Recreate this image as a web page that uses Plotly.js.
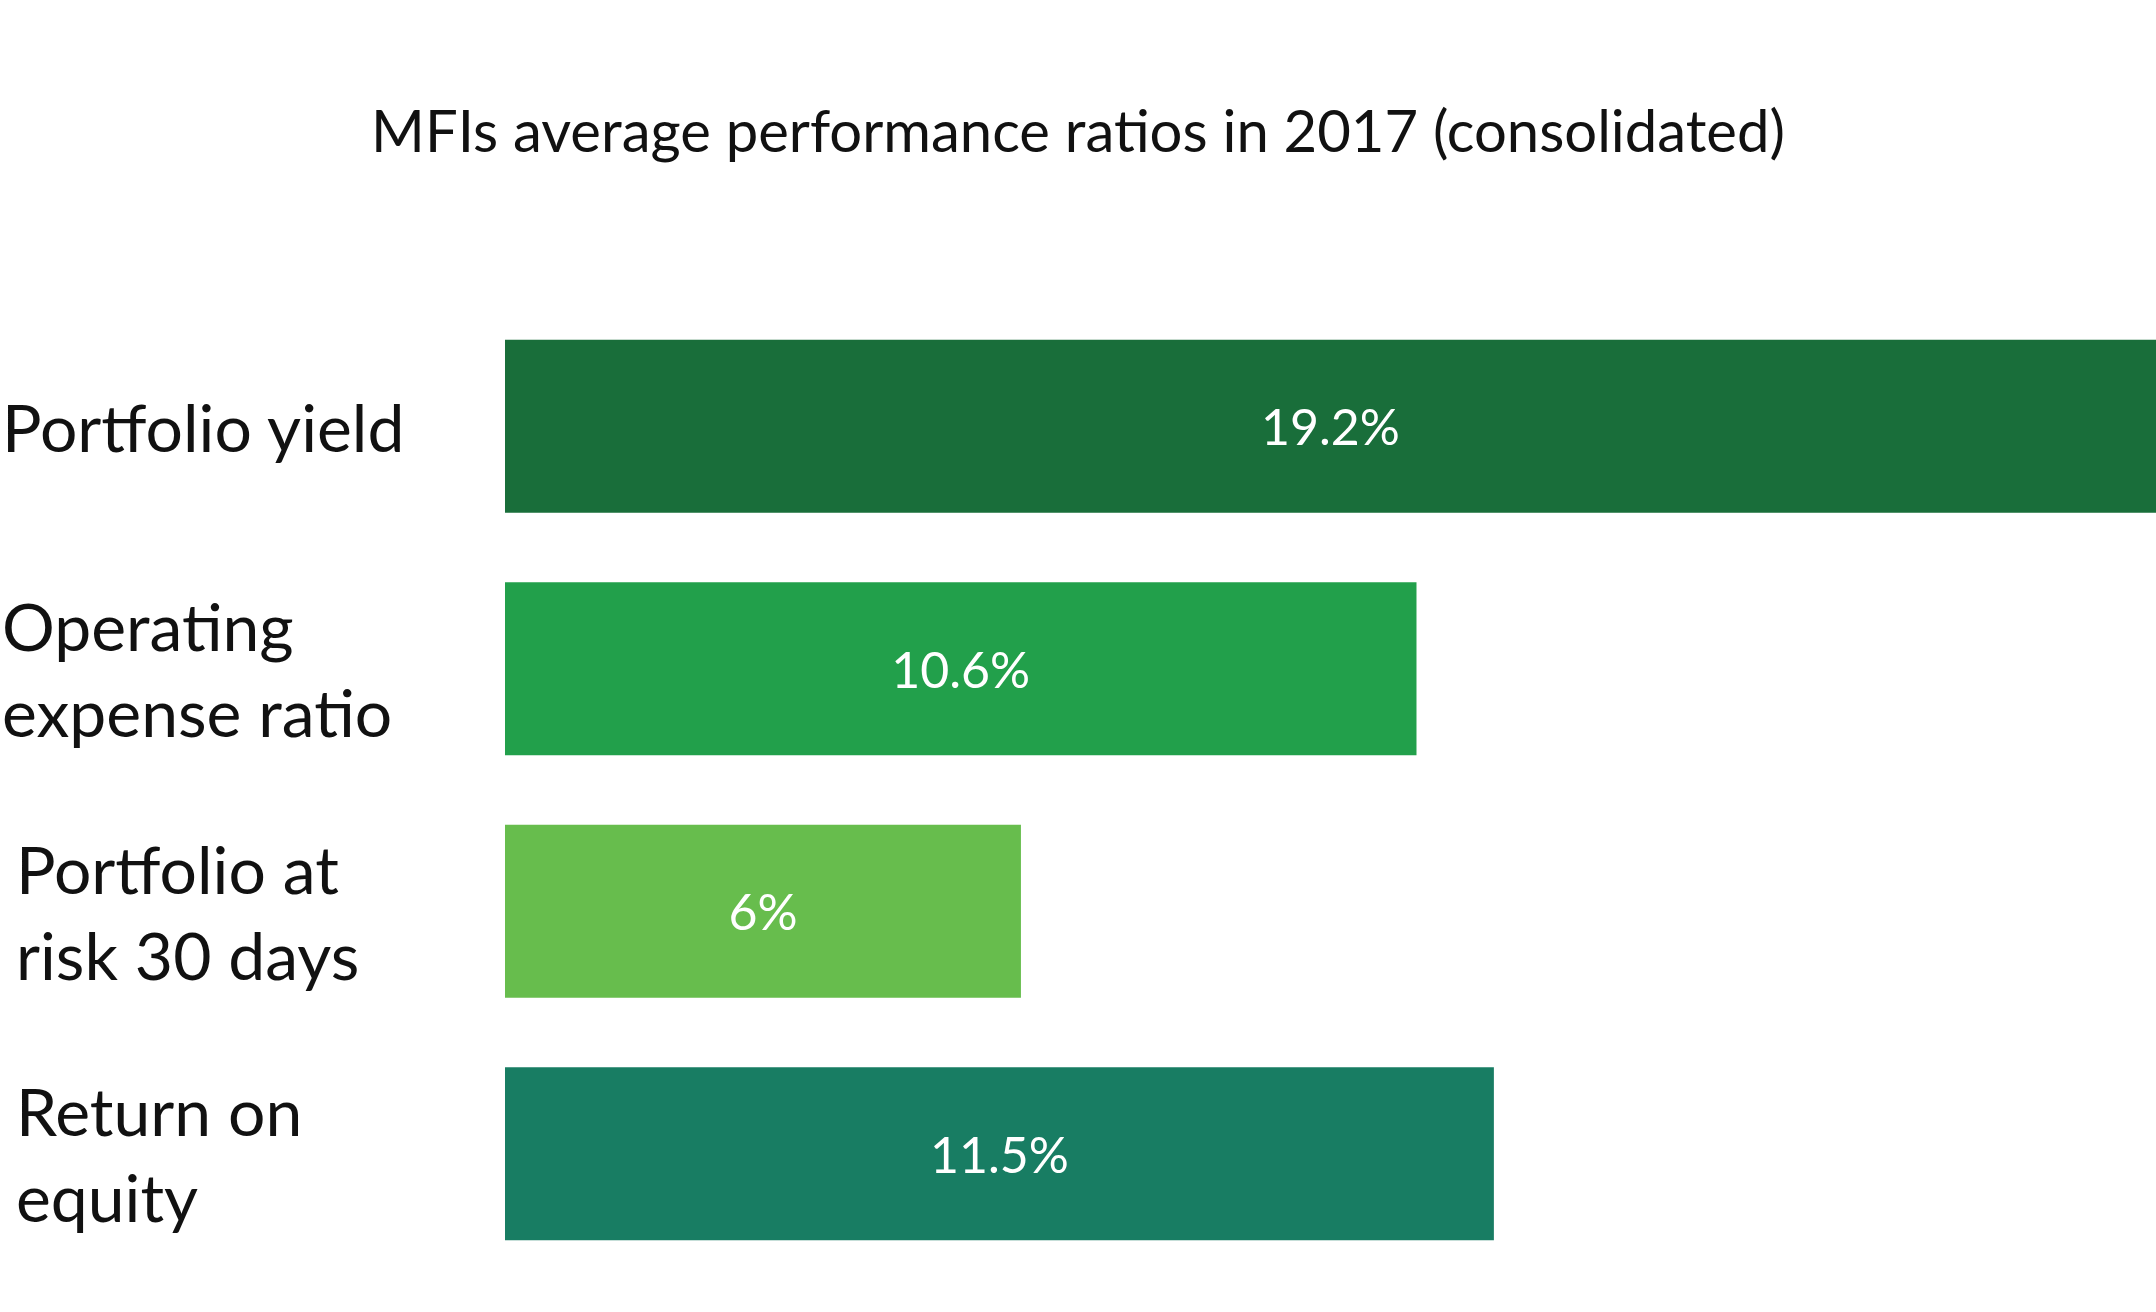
<!DOCTYPE html>
<html>
<head>
<meta charset="utf-8">
<script src="https://cdn.plot.ly/plotly-3.0.1.min.js"></script>
<style>body{margin:0;background:#fff}#chart{width:2156px;height:1312px}</style>
</head>
<body>
<div id="chart"></div>
<script>
const categories = ["Portfolio yield", "Operating<br>expense ratio", "Portfolio at<br>risk 30 days", "Return on<br>equity"];
const values = [19.2, 10.6, 6, 11.5];
const valueLabels = ["19.2%", "10.6%", "6%", "11.5%"];
const colors = ["#196e3a", "#22a04b", "#67bd4d", "#187d63"];
const labelOffsets = [0, 0, 14, 14];

const yPos = categories.map((c, i) => i);

Plotly.newPlot("chart", [{
  type: "bar",
  orientation: "h",
  x: values,
  y: yPos,
  width: 0.713,
  marker: { color: colors },
  text: valueLabels,
  textposition: "inside",
  insidetextanchor: "middle",
  textfont: { color: "#ffffff", size: 50, family: "Lato, 'Open Sans', sans-serif" },
  hoverinfo: "none"
}], {
  width: 2156,
  height: 1312,
  margin: { l: 505, r: 0, t: 305, b: 37 },
  paper_bgcolor: "#ffffff",
  plot_bgcolor: "#ffffff",
  font: { family: "Lato, 'Open Sans', sans-serif", color: "#111" },
  title: {
    text: "MFIs average performance ratios in 2017 (consolidated)",
    x: 0.5, xanchor: "center", y: 0.9, yanchor: "middle",
    font: { size: 58, color: "#111" }
  },
  xaxis: { range: [0, 19.2], visible: false, fixedrange: true },
  yaxis: { range: [3.5, -0.5], visible: false, fixedrange: true },
  showlegend: false,
  annotations: categories.map((c, i) => ({
    text: c,
    xref: "paper",
    x: (labelOffsets[i] - 505) / 1651,
    xanchor: "left",
    yref: "y",
    y: i,
    yanchor: "middle",
    align: "left",
    showarrow: false,
    font: { size: 66, color: "#111" }
  }))
}, { displayModeBar: false });
</script>
</body>
</html>
